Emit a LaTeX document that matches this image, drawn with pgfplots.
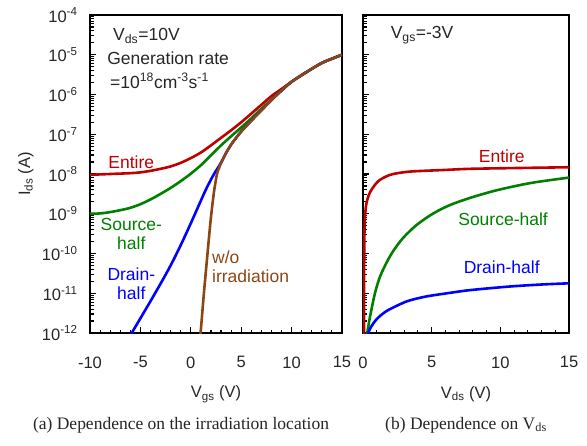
\documentclass[border=0pt]{standalone}
\usepackage{pgfplots}
\pgfplotsset{compat=1.18}
\usepackage{fontspec}
\setmainfont{Liberation Sans}
\newfontfamily\seriffont{Liberation Serif}
\definecolor{cred}{RGB}{192,0,0}
\definecolor{cgreen}{RGB}{0,128,0}
\definecolor{cblue}{RGB}{0,0,255}
\definecolor{cbrown}{RGB}{140,70,20}

\pgfplotstableread{
x y
0.85 6.31e-13
0.97 1.00e-12
1.3 1.00e-11
1.63 8.32e-11
1.97 6.92e-10
2.3 3.55e-9
2.6 1.00e-8
2.8 1.41e-8
3.0 1.91e-8
3.2 2.40e-8
3.5 3.39e-8
4.0 5.50e-8
4.5 8.13e-8
5.0 1.17e-7
6.0 2.19e-7
7.0 3.98e-7
8.0 7.24e-7
9.0 1.26e-6
10 2.09e-6
11.2 3.31e-6
12.9 6.03e-6
14.0 7.94e-6
15.0 1.00e-5
}\tbrown

\pgfplotstableread{
x y
-10 9.55e-9
-8 1.00e-8
-6 1.05e-8
-5 1.10e-8
-4 1.20e-8
-3 1.35e-8
-2 1.55e-8
-1 1.91e-8
0 2.51e-8
1 3.47e-8
2 5.25e-8
3 8.13e-8
4 1.26e-7
5 2.00e-7
6 3.31e-7
7 5.50e-7
8 9.12e-7
9 1.38e-6
10 2.09e-6
11.2 3.31e-6
12.9 6.03e-6
14.0 7.94e-6
15.0 1.00e-5
}\tred

\pgfplotstableread{
x y
-10 1.00e-9
-9 1.02e-9
-8 1.10e-9
-7 1.23e-9
-6 1.41e-9
-5 1.74e-9
-4 2.29e-9
-3 3.16e-9
-2 4.47e-9
-1 6.61e-9
0 1.02e-8
1 1.66e-8
2 2.95e-8
3 5.25e-8
4 8.91e-8
5 1.48e-7
6 2.51e-7
7 4.37e-7
8 7.41e-7
9 1.26e-6
10 2.09e-6
11.2 3.31e-6
12.9 6.03e-6
14.0 7.94e-6
15.0 1.00e-5
}\tgreen

\pgfplotstableread{
x y
-6.0 8.71e-13
-5 2.34e-12
-4 6.31e-12
-3 1.74e-11
-2 5.01e-11
-1 1.62e-10
0 5.75e-10
1 2.14e-9
1.5 4.07e-9
2.0 7.24e-9
2.4 1.10e-8
2.8 1.58e-8
3.2 2.40e-8
3.5 3.39e-8
4.0 5.50e-8
4.5 8.13e-8
5.0 1.17e-7
6.0 2.19e-7
7.0 3.98e-7
8.0 7.24e-7
9.0 1.26e-6
10 2.09e-6
11.2 3.31e-6
12.9 6.03e-6
14.0 7.94e-6
15.0 1.00e-5
}\tblue

\pgfplotstableread{
x y
0.07 3.16e-13
0.08 1.00e-11
0.09 1.00e-10
0.11 3.98e-10
0.16 1.00e-9
0.25 1.82e-9
0.4 2.82e-9
0.61 3.98e-9
0.9 5.50e-9
1.22 7.08e-9
1.7 8.71e-9
2.2 1.00e-8
3.4 1.15e-8
5.83 1.26e-8
7.8 1.35e-8
11 1.41e-8
15 1.48e-8
}\tredb

\pgfplotstableread{
x y
0.25 6.31e-13
0.31 1.00e-12
0.51 2.57e-12
0.87 1.00e-11
1.24 2.63e-11
1.73 6.03e-11
2.21 1.17e-10
2.94 2.51e-10
3.91 5.25e-10
5.12 1.02e-9
6.34 1.66e-9
7.8 2.51e-9
9.5 3.72e-9
11 4.90e-9
12.5 6.17e-9
15 8.13e-9
}\tgreenb

\pgfplotstableread{
x y
0.22 5.01e-13
0.35 8.91e-13
0.5 1.26e-12
0.75 1.74e-12
1.0 2.24e-12
1.24 2.69e-12
1.7 3.55e-12
2.2 4.37e-12
2.8 5.50e-12
3.4 6.61e-12
4.62 8.32e-12
6.3 1.02e-11
7.8 1.20e-11
10.7 1.48e-11
13 1.66e-11
15 1.78e-11
}\tblueb

\tikzset{annot/.style={font=\fontsize{17.5}{19}\selectfont, align=center}}

\pgfplotsset{every axis/.append style={
    scale only axis, height=318pt,
    ymin=1e-12, ymax=1e-4,
    axis line style={line width=2.2pt},
    tick pos=left, tick align=inside,
    major tick length=6pt, minor tick length=3.5pt,
    every tick/.style={black, line width=1.1pt},
    ytick={1e-12,1e-11,1e-10,1e-9,1e-8,1e-7,1e-6,1e-5,1e-4},
    minor ytick={2e-12,3e-12,4e-12,5e-12,6e-12,7e-12,8e-12,9e-12,
      2e-11,3e-11,4e-11,5e-11,6e-11,7e-11,8e-11,9e-11,
      2e-10,3e-10,4e-10,5e-10,6e-10,7e-10,8e-10,9e-10,
      2e-9,3e-9,4e-9,5e-9,6e-9,7e-9,8e-9,9e-9,
      2e-8,3e-8,4e-8,5e-8,6e-8,7e-8,8e-8,9e-8,
      2e-7,3e-7,4e-7,5e-7,6e-7,7e-7,8e-7,9e-7,
      2e-6,3e-6,4e-6,5e-6,6e-6,7e-6,8e-6,9e-6,
      2e-5,3e-5,4e-5,5e-5,6e-5,7e-5,8e-5,9e-5},
    tick label style={font=\fontsize{16.5}{18}\selectfont, text=black!85},
    xticklabel style={anchor=north, yshift=-20pt},
    label style={font=\fontsize{16.5}{18}\selectfont, text=black!85},
    xlabel style={at={(axis description cs:0.5,0)}, anchor=center, yshift=-61pt},
}}

\begin{document}
\begin{tikzpicture}
\path[use as bounding box] (0,0) rectangle (587pt,445pt);

\begin{semilogyaxis}[
  at={(90pt,112pt)}, anchor=south west, width=252pt,
  xmin=-10, xmax=15,
  xtick={-10,-5,0,5,10,15}, xticklabels={-10,-5,0,5,10,15},
  minor xtick={-9,-8,-7,-6,-4,-3,-2,-1,1,2,3,4,6,7,8,9,11,12,13,14},
  yticklabels={10\textsuperscript{-12},10\textsuperscript{-11},10\textsuperscript{-10},10\textsuperscript{-9},10\textsuperscript{-8},10\textsuperscript{-7},10\textsuperscript{-6},10\textsuperscript{-5},10\textsuperscript{-4}},
  yticklabel style={anchor=east, xshift=-9pt},
  xlabel={V\textsubscript{gs} (V)},
  ylabel={I\textsubscript{ds} (A)},
  ylabel style={at={(axis description cs:-0.255,0.5)}, anchor=center},
]
\addplot[cred, line width=2.6pt, no markers, smooth, tension=0.5] table[x=x,y=y] {\tred};
\addplot[cgreen, line width=2.6pt, no markers, smooth, tension=0.5] table[x=x,y=y] {\tgreen};
\addplot[cblue, line width=2.6pt, no markers, smooth, tension=0.5] table[x=x,y=y] {\tblue};
\addplot[cbrown, line width=2.6pt, no markers, smooth, tension=0.5] table[x=x,y=y] {\tbrown};

\node[annot, text=black!85] at (axis cs:-4.4,3.0e-5) {V\textsubscript{ds}=10V};
\node[annot, text=black!85] at (axis cs:-2.25,8.0e-6) {Generation rate};
\node[annot, text=black!85] at (axis cs:-3.1,2.2e-6) {=10\textsuperscript{18}cm\textsuperscript{-3}s\textsuperscript{-1}};
\node[annot, text=cred] at (axis cs:-5.9,2.0e-8) {Entire};
\node[annot, text=cgreen] at (axis cs:-5.9,3.09e-10) {Source-\\half};
\node[annot, text=cblue] at (axis cs:-5.9,1.78e-11) {Drain-\\half};
\node[annot, text=cbrown, anchor=west, align=left, inner sep=0pt] at (axis cs:2.1,4.57e-11) {w/o\\irradiation};
\end{semilogyaxis}

\begin{semilogyaxis}[
  at={(363pt,112pt)}, anchor=south west, width=206pt,
  xmin=0, xmax=15,
  xtick={0,5,10,15}, xticklabels={0,5,10,15},
  minor xtick={1,2,3,4,6,7,8,9,11,12,13,14},
  yticklabels={},
  xlabel={V\textsubscript{ds} (V)},
]
\addplot[cred, line width=2.6pt, no markers, smooth, tension=0.5] table[x=x,y=y] {\tredb};
\addplot[cgreen, line width=2.6pt, no markers, smooth, tension=0.5] table[x=x,y=y] {\tgreenb};
\addplot[cblue, line width=2.6pt, no markers, smooth, tension=0.5] table[x=x,y=y] {\tblueb};

\node[annot, text=black!85] at (axis cs:4.3,3.16e-5) {V\textsubscript{gs}=-3V};
\node[annot, text=cred] at (axis cs:10.1,2.82e-8) {Entire};
\node[annot, text=cgreen] at (axis cs:10.2,7.24e-10) {Source-half};
\node[annot, text=cblue] at (axis cs:10.1,4.47e-11) {Drain-half};
\end{semilogyaxis}

\node[font=\seriffont\fontsize{17.5}{19}\selectfont, text=black!85] at (181pt,20pt) {(a) Dependence on the irradiation location};
\node[font=\seriffont\fontsize{17.5}{19}\selectfont, text=black!85] at (466pt,20pt) {(b) Dependence on V\textsubscript{ds}};
\end{tikzpicture}
\end{document}
